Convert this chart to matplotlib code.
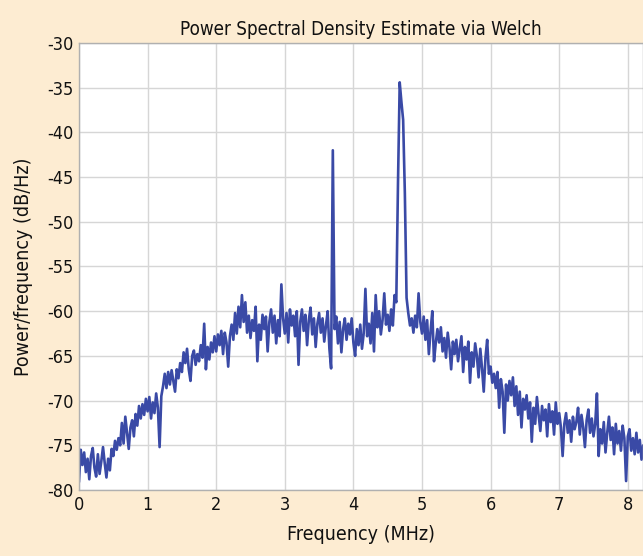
import numpy as np
import matplotlib
matplotlib.use("Agg")
import matplotlib.pyplot as plt
from matplotlib import font_manager

# ---- data ----
freq_step_mhz = 0.025
psd_db = [
    # 0.000 - 0.475
    -79.0, -75.5, -77.2, -75.8, -78.0, -76.5, -78.8, -76.2, -75.3, -77.5,
    -78.5, -76.0, -78.2, -76.8, -75.2, -77.0, -78.6, -76.5, -77.8, -75.4,
    # 0.500 - 0.975
    -76.2, -74.5, -75.5, -74.2, -75.0, -72.5, -74.8, -71.8, -73.6, -75.4,
    -73.0, -72.2, -74.0, -71.5, -72.8, -70.6, -72.0, -70.4, -71.6, -69.8,
    # 1.000 - 1.475
    -71.2, -69.6, -72.0, -70.2, -71.4, -69.2, -70.8, -75.2, -69.5, -68.4,
    -67.0, -68.6, -66.8, -68.2, -66.6, -67.8, -69.0, -66.5, -67.5, -65.8,
    # 1.500 - 1.975
    -66.8, -64.6, -65.8, -64.2, -66.5, -67.8, -65.0, -64.4, -66.0, -64.8,
    -65.6, -63.8, -65.2, -61.4, -66.5, -64.0, -65.4, -63.5, -64.6, -62.8,
    # 2.000 - 2.475
    -64.5, -62.6, -63.8, -62.2, -64.8, -62.4, -63.5, -66.2, -62.8, -61.5,
    -63.2, -60.2, -62.5, -59.5, -61.8, -58.2, -61.2, -59.0, -62.4, -60.5,
    # 2.500 - 2.975
    -63.0, -61.0, -62.2, -59.5, -65.6, -61.5, -63.2, -60.4, -62.0, -60.6,
    -64.5, -61.2, -59.8, -62.4, -60.5, -63.6, -61.0, -62.8, -57.0, -60.8,
    # 3.000 - 3.475
    -62.5, -60.2, -63.5, -59.8, -61.6, -60.5, -62.8, -60.0, -66.0, -61.2,
    -59.8, -62.2, -60.4, -63.8, -61.0, -59.6, -62.6, -60.8, -64.0, -61.4,
    # 3.500 - 3.975
    -60.2, -62.4, -60.8, -63.4, -61.6, -60.0, -64.2, -66.4, -42.0, -62.0,
    -60.6, -63.6, -61.2, -64.6, -62.0, -60.8, -63.2, -61.4, -62.6, -60.8,
    # 4.000 - 4.475
    -63.5, -65.0, -62.0, -63.8, -61.5, -64.2, -62.5, -57.5, -62.8, -61.4,
    -63.6, -60.2, -64.5, -58.2, -61.8, -60.0, -62.6, -61.0, -58.0, -61.5,
    # 4.500 - 4.975
    -60.4, -62.2, -59.8, -61.6, -58.2, -59.0, -45.7, -34.4, -36.6, -38.6,
    -46.8, -58.5, -60.2, -61.6, -60.8, -62.4, -60.5, -61.8, -58.0, -61.2,
    # 5.000 - 5.475
    -62.5, -60.6, -63.2, -61.0, -64.8, -62.2, -60.0, -65.6, -63.6, -62.0,
    -63.5, -61.8, -64.5, -63.0, -65.2, -62.4, -64.0, -66.5, -63.4, -64.8,
    # 5.500 - 5.975
    -63.2, -65.6, -64.2, -62.8, -66.8, -64.0, -65.4, -63.4, -68.0, -64.6,
    -66.2, -63.6, -65.0, -67.4, -64.2, -66.4, -69.0, -65.2, -63.2, -67.0,
    # 6.000 - 6.475
    -66.2, -68.0, -67.0, -68.6, -66.8, -70.8, -67.6, -69.0, -73.6, -68.2,
    -70.0, -67.8, -69.4, -67.4, -70.6, -68.4, -71.6, -69.0, -73.0, -69.8,
    # 6.500 - 6.975
    -71.0, -69.4, -72.0, -70.2, -74.6, -70.8, -72.6, -69.6, -71.6, -73.4,
    -70.6, -72.2, -71.0, -74.0, -70.4, -72.4, -71.2, -73.8, -70.2, -72.6,
    # 7.000 - 7.475
    -71.4, -73.0, -76.2, -72.6, -71.4, -73.6, -72.2, -74.6, -71.8, -73.2,
    -72.4, -70.8, -73.8, -71.6, -73.0, -75.2, -72.2, -71.0, -73.6, -72.0,
    # 7.500 - 7.975
    -74.0, -72.6, -69.2, -76.2, -73.2, -74.8, -72.4, -75.8, -73.6, -71.8,
    -74.4, -73.0, -76.0, -72.6, -74.8, -73.4, -75.6, -72.8, -74.2, -79.0,
    # 8.000 - 8.250
    -74.0, -73.2, -75.6, -74.2, -76.0, -73.6, -75.8, -74.4, -76.6, -75.0,
    -76.2,
]
freq_mhz = np.arange(len(psd_db)) * freq_step_mhz

x_ticks = [0, 1, 2, 3, 4, 5, 6, 7, 8]
y_ticks = [-80, -75, -70, -65, -60, -55, -50, -45, -40, -35, -30]
title_text = "Power Spectral Density Estimate via Welch"
xlabel_text = "Frequency (MHz)"
ylabel_text = "Power/frequency (dB/Hz)"

# ---- font: prefer a condensed face ----
avail = {f.name for f in font_manager.fontManager.ttflist}
if "Liberation Sans Narrow" in avail:
    fam, stretch = "Liberation Sans Narrow", "normal"
else:
    fam, stretch = "DejaVu Sans", "condensed"
plt.rcParams["font.family"] = [fam, "DejaVu Sans"]
plt.rcParams["font.stretch"] = stretch

# ---- figure ----
W, H = 643, 556
fig = plt.figure(figsize=(W / 100, H / 100), dpi=100)
bg = "#fdecd2"
fig.patch.set_facecolor(bg)

left_px, right_px, top_px, bottom_px = 79, 643, 43, 490
ax = fig.add_axes([left_px / W, 1 - bottom_px / H,
                   (right_px - left_px) / W, (bottom_px - top_px) / H])
ax.set_facecolor("white")

ax.plot(freq_mhz, psd_db, color="#3a4aa6", linewidth=1.9)

ax.set_xlim(0, (right_px - left_px) / 68.6)
ax.set_ylim(-80, -30)
ax.set_xticks(x_ticks)
ax.set_yticks(y_ticks)
ax.set_xticklabels([str(v) for v in x_ticks])
ax.set_yticklabels([str(v) for v in y_ticks])

ax.grid(True, color="#d6d6d6", linewidth=1.0)
ax.set_axisbelow(True)
ax.tick_params(direction="in", length=0, labelsize=13, colors="#111111", pad=4)
for s in ax.spines.values():
    s.set_color("#b0b0b0")
    s.set_linewidth(1.0)

ax.set_title(title_text, fontsize=13.5, color="#111111", pad=6)
ax.set_xlabel(xlabel_text, fontsize=14, color="#111111", labelpad=8)
ax.set_ylabel(ylabel_text, fontsize=14, color="#111111", labelpad=10)

fig.savefig("out.png", dpi=100, facecolor=bg)
